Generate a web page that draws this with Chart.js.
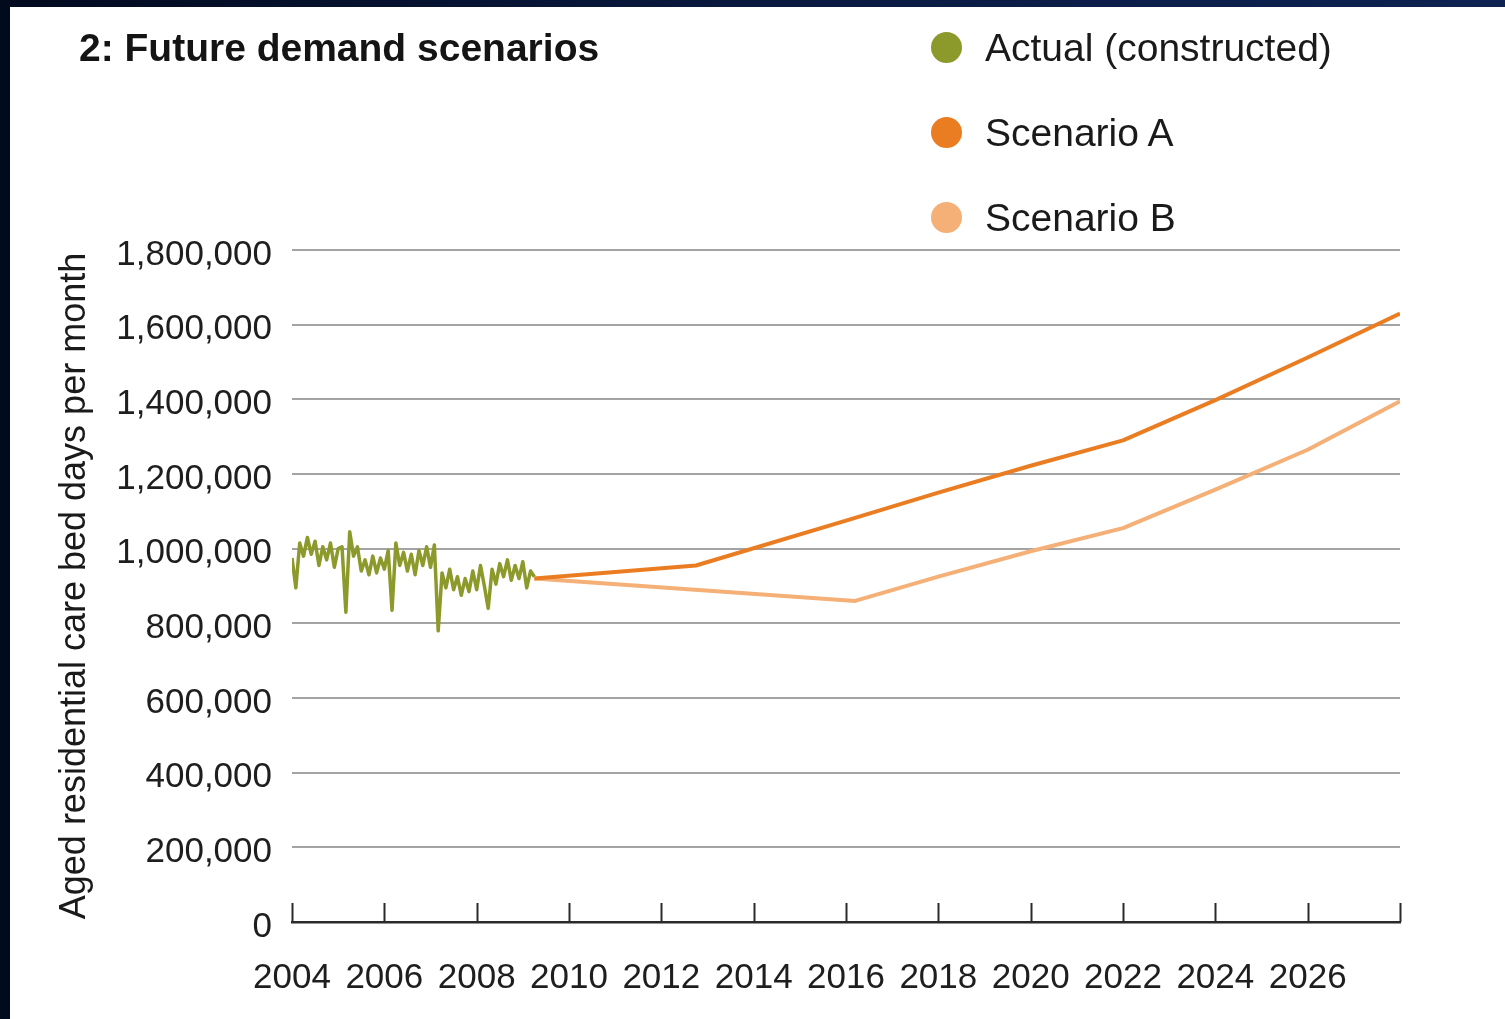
<!DOCTYPE html>
<html>
<head>
<meta charset="utf-8">
<title>Future demand scenarios</title>
<script src="https://cdn.jsdelivr.net/npm/chart.js@4/dist/chart.umd.min.js"></script>
<style>
  html, body {
    margin: 0;
    padding: 0;
    width: 1505px;
    height: 1019px;
    overflow: hidden;
    background: linear-gradient(90deg, #020a1e 0%, #0a1a42 55%, #0e2352 100%);
    font-family: "Liberation Sans", Arial, sans-serif;
  }
  #panel {
    position: absolute;
    left: 10px;
    top: 7px;
    width: 1495px;
    height: 1012px;
    background: #ffffff;
  }
  #title {
    position: absolute;
    left: 79px;
    top: 25px;
    font-size: 39px;
    line-height: 46px;
    font-weight: bold;
    color: #141414;
    white-space: nowrap;
  }
  #legend {
    position: absolute;
    left: 931px;
    top: 5px;
  }
  .legend-row {
    height: 85px;
    line-height: 85px;
    font-size: 39px;
    color: #1a1a1a;
    white-space: nowrap;
  }
  .legend-dot {
    display: inline-block;
    width: 31px;
    height: 31px;
    border-radius: 50%;
    margin-right: 23px;
    vertical-align: middle;
    position: relative;
    top: -3px;
  }
</style>
</head>
<body>
<div id="panel"><canvas id="demandChart"></canvas></div>
<div id="title">2: Future demand scenarios</div>
<div id="legend"></div>

<script>
  // Monthly bed days, Jan 2004 onwards
  const actualStartYear = 2004;
  const actualMonthly = [
    975000, 895000, 1015000, 980000, 1030000, 985000, 1020000, 955000,
    1005000, 970000, 1015000, 950000, 1000000, 1005000, 830000, 1045000,
    980000, 1005000, 940000, 970000, 930000, 980000, 935000, 975000,
    945000, 995000, 835000, 1015000, 955000, 990000, 940000, 985000,
    930000, 995000, 955000, 1005000, 950000, 1010000, 780000, 935000,
    895000, 945000, 890000, 925000, 875000, 920000, 885000, 940000,
    890000, 955000, 900000, 840000, 945000, 905000, 960000, 925000,
    970000, 915000, 955000, 920000, 965000, 895000, 940000, 925000
  ];

  const scenarioAYears = [2009.25, 2012.75, 2016, 2018, 2020, 2022, 2024, 2026, 2028];
  const scenarioAValues = [920000, 955000, 1075000, 1150000, 1222000, 1290000, 1398000, 1512000, 1630000];

  const scenarioBYears = [2009.25, 2016.2, 2018, 2020, 2022, 2024, 2026, 2028];
  const scenarioBValues = [920000, 860000, 925000, 993000, 1055000, 1158000, 1265000, 1395000];

  const seriesNames = ["Actual (constructed)", "Scenario A", "Scenario B"];
  const seriesColors = ["#8c9a2c", "#ea7d22", "#f4b076"];

  const yearMin = 2004;
  const yearMax = 2028;
  const yearStep = 2;
  const valueMax = 1800000;
  const valueStep = 200000;

  const FONT = "'Liberation Sans', Arial, sans-serif";

  function toPoints(xs, ys) {
    return ys.map((y, i) => ({ x: xs[i], y }));
  }

  const actualPoints = actualMonthly.map((v, i) => ({ x: actualStartYear + i / 12, y: v }));

  // short tick marks standing up from the x axis line
  const upTicks = {
    id: "upTicks",
    afterDraw(chart) {
      const xScale = chart.scales.x;
      const { ctx, chartArea } = chart;
      ctx.save();
      ctx.strokeStyle = "#2a2a2a";
      ctx.lineWidth = 2;
      xScale.ticks.forEach((tick) => {
        const px = Math.round(xScale.getPixelForValue(tick.value)) + 0.5;
        ctx.beginPath();
        ctx.moveTo(px, chartArea.bottom);
        ctx.lineTo(px, chartArea.bottom - 19);
        ctx.stroke();
      });
      ctx.restore();
    }
  };

  const chart = new Chart(document.getElementById("demandChart"), {
    type: "line",
    data: {
      datasets: [
        {
          label: seriesNames[0],
          data: actualPoints,
          borderColor: seriesColors[0],
          backgroundColor: seriesColors[0],
          borderWidth: 3.5,
          borderJoinStyle: "round",
          pointRadius: 0,
          tension: 0,
          order: 0
        },
        {
          label: seriesNames[1],
          data: toPoints(scenarioAYears, scenarioAValues),
          borderColor: seriesColors[1],
          backgroundColor: seriesColors[1],
          borderWidth: 4,
          borderJoinStyle: "round",
          pointRadius: 0,
          tension: 0,
          order: 1
        },
        {
          label: seriesNames[2],
          data: toPoints(scenarioBYears, scenarioBValues),
          borderColor: seriesColors[2],
          backgroundColor: seriesColors[2],
          borderWidth: 4,
          borderJoinStyle: "round",
          pointRadius: 0,
          tension: 0,
          order: 2
        }
      ]
    },
    options: {
      responsive: true,
      maintainAspectRatio: false,
      animation: false,
      layout: {
        padding: { top: 243, right: 105, bottom: 0, left: 0 }
      },
      plugins: {
        legend: { display: false },
        tooltip: { enabled: false }
      },
      scales: {
        x: {
          type: "linear",
          min: yearMin,
          max: yearMax,
          afterFit: (scale) => { scale.height = 97; },
          grid: { display: false, drawTicks: false },
          border: { display: true, color: "#2a2a2a", width: 2.5 },
          ticks: {
            stepSize: yearStep,
            padding: 35,
            color: "#1e1e1e",
            font: { family: FONT, size: 35 },
            maxRotation: 0,
            autoSkip: false,
            callback: (value) => (value === yearMax ? "" : String(value))
          }
        },
        y: {
          min: 0,
          max: valueMax,
          afterFit: (scale) => { scale.width = 282; },
          grid: { color: "#a3a3a3", lineWidth: 2, drawTicks: false },
          border: { display: false },
          ticks: {
            stepSize: valueStep,
            padding: 20,
            labelOffset: 5,
            color: "#1e1e1e",
            font: { family: FONT, size: 35 },
            callback: (value) => Number(value).toLocaleString("en-US")
          },
          title: {
            display: true,
            text: "Aged residential care bed days per month",
            color: "#1a1a1a",
            font: { family: FONT, size: 36 },
            padding: { top: 43, bottom: 0 }
          }
        }
      }
    },
    plugins: [upTicks]
  });

  // legend built from the chart's own datasets
  const legend = document.getElementById("legend");
  chart.data.datasets.forEach((ds) => {
    const row = document.createElement("div");
    row.className = "legend-row";
    const dot = document.createElement("span");
    dot.className = "legend-dot";
    dot.style.background = ds.borderColor;
    row.appendChild(dot);
    row.appendChild(document.createTextNode(ds.label));
    legend.appendChild(row);
  });
</script>
</body>
</html>
